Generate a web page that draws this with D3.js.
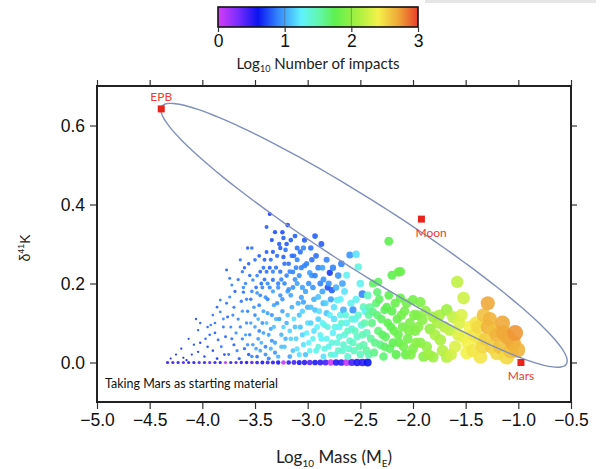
<!DOCTYPE html>
<html>
<head>
<meta charset="utf-8">
<script src="https://cdn.jsdelivr.net/npm/d3@7"></script>
<style>
  body { margin: 0; background: #fff; }
  svg { display: block; }
</style>
</head>
<body>
<div id="chart"></div>
<script>
// axis ticks
const xTicks = [-5, -4.5, -4, -3.5, -3, -2.5, -2, -1.5, -1, -0.5];
const yTicks = [0, 0.2, 0.4, 0.6];
const cbTicks = [0, 1, 2, 3];

// colour map for log10 number of impacts
const cmapStops = [0, 0.3, 0.6, 0.9, 1.25, 1.5, 1.75, 2.1, 2.4, 2.7, 3];
const cmapColors = ['#d63cf5', '#7a2cff', '#0a14f0', '#3385ff', '#5ff2ff', '#62f7b0',
                    '#5ef050', '#a8f040', '#f4f24a', '#f0a838', '#e8402a'];

// reference bodies
const refNames = ['EPB', 'Moon', 'Mars'];
const refMass = [-4.39, -1.92, -0.975];
const refDelta = [0.642, 0.363, 0.0];

// mixing ellipse (centre and two semi-axis vectors, data units)
const ellCentre = [-2.465, 0.322];
const ellAxisA = [1.921, -0.326];
const ellAxisB = [-0.174, -0.0727];

// simulations on the zero line: log mass and log impacts
const rowMass = [-4.33, -4.28, -4.23, -4.18, -4.13, -4.08, -4.03, -3.98, -3.93, -3.88,
  -3.83, -3.78, -3.73, -3.68, -3.63, -3.58, -3.53, -3.48, -3.43, -3.38, -3.33, -3.28,
  -3.23, -3.18, -3.13, -3.08, -3.03, -2.98, -2.93, -2.88, -2.83, -2.78, -2.73, -2.68,
  -2.63, -2.58, -2.53, -2.48, -2.43];
const rowImpacts = [0.5, 0.45, 0.5, 0.4, 0.5, 0.55, 0.45, 0.5, 0.4, 0.5,
  0.55, 0.1, 0.5, 0.45, 0.5, 0.55, 0.4, 0.5, 0.55, 0.45, 0.5, 0.55,
  0.05, 0.5, 0.45, 0.55, 0.5, 0.4, 0.55, 0.5, 0.45, 0.05, 0.55, 0.5,
  0.05, 0.45, 0.55, 0.5, 0.6];

// [log10 mass, d41K, log10 impacts]
const blueSims = [
  [-4.3,0.01,0.6],[-4.25,0.02,0.65],[-4.2,0.035,0.65],[-4.18,0.012,0.6],[-4.13,0.06,0.7],[-4.06,0.11,0.75],
  [-4.15,0.006,0.6],[-4.04,0.027,0.7],[-4.02,0.05,0.7],[-3.95,0.04,0.75],[-3.93,0.07,0.8],[-4.04,0.082,0.75],
  [-4.02,0.1,0.8],[-3.9,0.12,0.85],[-3.83,0.128,0.9],[-3.83,0.158,0.85],[-3.85,0.057,0.8],[-3.8,0.09,0.85],
  [-3.76,0.115,0.8],[-3.74,0.166,0.9],[-3.77,0.234,0.8],[-3.74,0.213,0.85],[-3.72,0.196,0.9],[-3.64,0.26,0.85],
  [-3.6,0.24,0.8],[-3.61,0.19,0.9],[-3.61,0.178,0.85],[-3.57,0.29,0.8],[-3.53,0.29,0.85],[-3.52,0.209,0.9],
  [-3.48,0.176,0.95],[-3.45,0.23,0.8],[-3.39,0.23,0.85],[-3.36,0.376,0.7],[-3.39,0.343,0.8],[-3.34,0.31,0.75],
  [-3.23,0.315,0.8],[-3.19,0.348,0.75],[-3.23,0.267,0.8],[-3.33,0.209,0.85],
  [-4.1,0.02,0.7],[-4.08,0.045,0.75],[-3.98,0.015,0.7],[-3.97,0.06,0.8],[-3.92,0.095,0.85],[-3.9,0.03,0.75],
  [-3.88,0.075,0.8],[-3.86,0.01,0.7],[-3.82,0.04,0.85],[-3.8,0.11,0.9],[-3.78,0.065,0.8],[-3.75,0.02,0.85],
  [-3.73,0.09,0.9],[-3.7,0.14,0.85],[-3.7,0.045,0.8],[-3.68,0.075,0.95],[-3.66,0.11,0.9],[-3.65,0.01,0.8],
  [-3.63,0.155,0.85],[-3.62,0.06,0.9],[-3.6,0.035,0.85],[-3.58,0.1,0.95],[-3.57,0.13,0.9],[-3.56,0.02,0.8],
  [-3.55,0.07,0.9],[-3.54,0.16,0.85],[-3.52,0.045,0.95],[-3.5,0.12,0.9],[-3.5,0.09,1.0],[-3.48,0.015,0.85],
  [-3.47,0.06,0.95],[-3.46,0.145,0.9],[-3.45,0.03,1.0],[-3.44,0.2,0.85],[-3.43,0.1,0.95],[-3.42,0.075,1.0],
  [-3.41,0.26,0.8],[-3.4,0.04,0.9],[-3.4,0.165,0.95],[-3.38,0.125,1.0],[-3.37,0.01,0.9],[-3.36,0.19,0.9],
  [-3.35,0.085,1.0],[-3.34,0.055,0.95],[-3.33,0.28,0.8],[-3.32,0.145,1.0],[-3.31,0.025,0.95],[-3.3,0.24,0.85],
  [-3.3,0.11,1.05],[-3.27,0.3,0.8],[-3.21,0.285,0.85],[-3.16,0.31,0.8],
  [-3.95,0.09,0.8],[-3.88,0.1,0.85],[-3.86,0.14,0.8],[-3.79,0.02,0.75],[-3.77,0.15,0.85],[-3.72,0.06,0.85],
  [-3.71,0.12,0.9],[-3.69,0.18,0.8],[-3.67,0.03,0.9],[-3.66,0.21,0.85],[-3.64,0.09,0.9],[-3.62,0.13,0.95],
  [-3.59,0.07,1.0],[-3.58,0.16,0.9],[-3.57,0.045,0.95],[-3.55,0.22,0.85],[-3.54,0.1,1.0],[-3.53,0.015,0.9],
  [-3.51,0.14,0.95],[-3.49,0.19,0.85],[-3.49,0.035,1.0],[-3.47,0.11,1.05],[-3.46,0.08,0.9],[-3.45,0.17,0.9],
  [-3.44,0.05,1.05],[-3.42,0.13,1.0],[-3.41,0.21,0.85],[-3.4,0.02,0.95],[-3.39,0.1,1.1],[-3.38,0.16,0.9],
  [-3.37,0.07,1.0],[-3.36,0.24,0.8],[-3.35,0.035,1.05],[-3.34,0.12,0.95],[-3.33,0.18,1.0],[-3.32,0.09,1.1],
  [-3.31,0.05,1.0],[-3.29,0.15,0.95],[-3.28,0.015,1.05],[-3.27,0.11,1.0],[-3.26,0.23,0.85],[-3.25,0.04,1.1],
  [-3.24,0.16,0.95],[-3.23,0.09,1.15],[-3.22,0.2,0.9],[-3.21,0.06,1.05],[-3.19,0.12,1.1],[-3.18,0.25,0.85],
  [-3.17,0.08,1.15],[-3.16,0.17,1.0],[-3.14,0.03,1.1],[-3.13,0.11,1.2],[-3.12,0.21,0.95],[-3.11,0.06,1.15],
  [-3.09,0.15,1.05],[-3.08,0.02,1.2],[-3.07,0.09,1.1],[-3.06,0.24,0.9],[-3.05,0.13,1.15],[-3.04,0.045,1.2],
  [-3.02,0.18,1.0],[-3.01,0.075,1.25],[-3.0,0.14,1.05],
  [-3.62,0.23,0.85],[-3.59,0.2,0.9],[-3.56,0.25,0.8],[-3.53,0.18,0.9],[-3.5,0.26,0.85],[-3.48,0.22,0.9],
  [-3.46,0.27,0.8],[-3.43,0.19,0.9],[-3.42,0.24,0.85],[-3.39,0.28,0.8],[-3.38,0.2,0.9],[-3.35,0.26,0.85],
  [-3.33,0.23,0.9],[-3.31,0.33,0.75],[-3.29,0.27,0.85],[-3.28,0.19,0.95],[-3.26,0.29,0.8],[-3.25,0.21,0.9],
  [-3.24,0.33,0.75],[-3.22,0.25,0.85],[-3.2,0.3,0.8],[-3.19,0.18,1.0],[-3.17,0.23,0.9],[-3.15,0.27,0.85],
  [-3.14,0.19,0.95],[-3.12,0.32,0.8],[-3.11,0.24,0.9],[-3.08,0.22,0.95],[-3.07,0.28,0.85],[-3.05,0.19,1.0],
  [-3.03,0.31,0.8],[-3.01,0.25,0.9],[-2.97,0.29,0.85],[-2.96,0.22,0.95],[-2.92,0.27,0.85],[-2.9,0.24,0.9],
  [-2.87,0.3,0.8],[-2.85,0.21,0.95],[-2.82,0.26,0.9],[-2.8,0.2,0.95],[-2.76,0.24,0.9],[-2.71,0.22,0.95],
  [-2.68,0.25,0.9],[-2.67,0.2,1.0]
];

const cyanSims = [
  [-3.1,0.29,0.85],[-3.04,0.29,0.9],[-3.1,0.26,0.9],[-2.93,0.32,0.8],[-2.86,0.24,1.0],[-2.79,0.227,0.7],
  [-3.14,0.229,0.9],[-2.98,0.227,1.0],[-2.81,0.19,0.75],[-2.77,0.183,0.8],[-2.95,0.19,0.95],[-2.9,0.166,1.1],
  [-3.04,0.153,1.0],[-2.85,0.15,1.05],[-2.93,0.133,1.1],
  [-3.28,0.2,0.9],[-3.26,0.17,0.95],[-3.25,0.07,1.05],[-3.24,0.13,1.0],[-3.22,0.04,1.1],[-3.2,0.22,0.9],
  [-3.2,0.1,1.05],[-3.18,0.185,0.95],[-3.17,0.015,1.0],[-3.16,0.06,1.15],[-3.15,0.14,1.05],[-3.13,0.27,0.85],
  [-3.12,0.09,1.1],[-3.1,0.2,1.0],[-3.1,0.035,1.2],[-3.08,0.12,1.1],[-3.06,0.165,1.0],[-3.05,0.07,1.15],
  [-3.03,0.245,0.9],[-3.02,0.02,1.1],[-3.0,0.1,1.2],[-2.99,0.05,1.25],[-2.97,0.14,1.1],[-2.96,0.26,0.85],
  [-2.94,0.08,1.2],[-2.92,0.03,1.3],[-2.9,0.11,1.15],[-2.88,0.2,0.9],[-2.87,0.06,1.25],[-2.85,0.015,1.2],
  [-2.84,0.095,1.3],[-2.82,0.125,1.1],[-2.8,0.04,1.3],[-2.78,0.16,1.0],[-2.76,0.075,1.25],[-2.75,0.11,1.2],
  [-2.6,0.272,0.95],[-2.54,0.274,1.2],[-2.52,0.242,1.35],[-2.63,0.221,1.3],[-2.48,0.173,0.9],[-2.72,0.158,1.3],
  [-2.57,0.133,0.95],[-2.66,0.133,1.05],
  [-2.74,0.02,1.3],[-2.72,0.05,1.35],[-2.7,0.09,1.25],[-2.69,0.12,1.3],[-2.67,0.03,1.4],[-2.65,0.07,1.35],
  [-2.63,0.1,1.3],[-2.62,0.015,1.4],[-2.6,0.055,1.4],[-2.58,0.085,1.35],[-2.56,0.03,1.45],[-2.55,0.11,1.3],
  [-2.53,0.065,1.4],[-2.5,0.02,1.45],[-2.49,0.095,1.35],[-2.47,0.045,1.5],[-2.45,0.13,1.3],[-2.44,0.075,1.45],
  [-2.42,0.02,1.5],
  [-2.99,0.2,0.95],[-2.98,0.03,1.3],[-2.97,0.1,1.15],[-2.95,0.06,1.3],[-2.94,0.16,1.05],[-2.93,0.22,0.9],
  [-2.91,0.09,1.25],[-2.9,0.04,1.35],[-2.89,0.13,1.2],[-2.88,0.07,1.3],[-2.86,0.18,1.0],[-2.86,0.1,1.3],
  [-2.84,0.035,1.35],[-2.83,0.15,1.15],[-2.82,0.06,1.3],[-2.81,0.09,1.35],[-2.79,0.12,1.25],[-2.78,0.02,1.4],
  [-2.77,0.05,1.35],[-2.75,0.14,1.2],[-2.74,0.09,1.35],[-2.73,0.19,1.05],[-2.71,0.03,1.4],[-2.7,0.065,1.35],
  [-2.69,0.16,1.25],[-2.68,0.1,1.4],[-2.66,0.045,1.4],[-2.65,0.18,1.2],[-2.64,0.12,1.35],[-2.62,0.08,1.45],
  [-2.61,0.035,1.4],[-2.59,0.15,1.3],[-2.58,0.11,1.4],[-2.57,0.05,1.45],[-2.55,0.08,1.45],[-2.54,0.16,1.3],
  [-2.52,0.12,1.4],[-2.51,0.04,1.5],[-2.5,0.2,1.3],[-2.48,0.07,1.5],[-2.47,0.14,1.45],[-2.46,0.1,1.5],
  [-2.44,0.03,1.55],[-2.43,0.17,1.45],[-2.42,0.12,1.55]
];

const greenSims = [
  [-2.23,0.307,1.75],[-2.14,0.229,1.8],[-2.2,0.221,1.75],[-2.38,0.2,1.7],[-2.33,0.204,1.7],[-2.34,0.178,1.65],
  [-2.12,0.163,1.8],[-2.38,0.128,1.6],[-2.27,0.133,1.7],[-2.12,0.23,1.8],
  [-2.4,0.06,1.55],[-2.39,0.1,1.6],[-2.37,0.025,1.6],[-2.35,0.15,1.65],[-2.33,0.08,1.65],[-2.31,0.045,1.6],
  [-2.3,0.11,1.7],[-2.28,0.015,1.65],[-2.26,0.065,1.7],[-2.24,0.1,1.75],[-2.22,0.035,1.7],[-2.2,0.13,1.75],
  [-2.18,0.08,1.8],[-2.16,0.02,1.75],[-2.15,0.11,1.8],[-2.13,0.05,1.8],[-2.1,0.09,1.85],[-2.08,0.13,1.85],
  [-2.07,0.02,1.8],[-2.05,0.06,1.85],[-2.03,0.1,1.9],[-2.0,0.158,1.85],[-2.0,0.035,1.9],[-1.98,0.08,1.9],
  [-1.96,0.12,1.9],[-1.93,0.153,1.9],[-1.93,0.05,1.95],[-1.91,0.108,1.95],[-1.9,0.015,1.95],
  [-2.41,0.14,1.55],[-2.36,0.05,1.6],[-2.34,0.12,1.65],[-2.32,0.16,1.7],[-2.29,0.07,1.7],[-2.27,0.04,1.7],
  [-2.25,0.14,1.75],[-2.23,0.17,1.75],[-2.21,0.09,1.75],[-2.19,0.05,1.75],[-2.17,0.15,1.8],[-2.14,0.07,1.8],
  [-2.11,0.12,1.85],[-2.09,0.04,1.85],[-2.06,0.15,1.85],[-2.04,0.08,1.9],[-2.02,0.02,1.9],[-1.99,0.12,1.9],
  [-1.97,0.05,1.95],[-1.95,0.09,1.95]
];

const yellowSims = [
  [-1.87,0.04,2.0],[-1.81,0.115,2.05],[-1.81,0.014,2.05],[-1.74,0.057,2.1],[-1.68,0.133,2.05],[-1.68,0.014,2.15],
  [-1.65,0.082,2.2],[-1.62,0.115,2.2],[-1.58,0.204,2.2],[-1.52,0.163,2.25],[-1.52,0.065,2.35],[-1.49,0.024,2.4],
  [-1.46,0.09,2.4],[-1.84,0.085,2.0],[-1.77,0.1,2.1],[-1.72,0.03,2.15],[-1.6,0.04,2.3],[-1.56,0.1,2.3],
  [-1.36,0.057,2.45],[-1.36,0.014,2.45],[-1.29,0.09,2.65],[-1.29,0.15,2.7],[-1.2,0.07,2.65],[-1.14,0.075,2.7],
  [-1.1,0.065,2.7],[-1.01,0.032,2.65],[-1.2,0.024,2.5],[-1.11,0.014,2.5],[-1.4,0.1,2.45],[-1.25,0.04,2.55],
  [-1.05,0.05,2.7],[-1.33,0.12,2.6],
  [-1.88,0.13,2.0],[-1.85,0.02,2.05],[-1.79,0.07,2.1],[-1.75,0.12,2.1],[-1.7,0.09,2.15],[-1.64,0.02,2.25],
  [-1.57,0.07,2.3],[-1.54,0.12,2.3],[-1.48,0.05,2.4],[-1.43,0.03,2.45],[-1.42,0.07,2.45],[-1.38,0.09,2.5],
  [-1.34,0.04,2.5],[-1.31,0.06,2.55],[-1.27,0.11,2.65],[-1.23,0.08,2.6],[-1.17,0.04,2.6],[-1.15,0.1,2.7],
  [-1.07,0.03,2.6],[-1.03,0.075,2.75]
];

const W = 601, H = 469;
const plot = { left: 97, right: 571, top: 86, bottom: 402 };

const svg = d3.select('#chart').append('svg')
  .attr('width', W).attr('height', H)
  .attr('font-family', '"Liberation Sans", Arial, sans-serif');

const x = d3.scaleLinear().domain([-5, -0.5]).range([plot.left, plot.right]);
const y = d3.scaleLinear().domain([-0.1, 0.7]).range([plot.bottom, plot.top]);
const color = d3.scaleLinear().domain(cmapStops).range(cmapColors).clamp(true);
// marker size grows with mass (measured from the smallest simulated body)
const minMass = -4.4;
const radius = d3.scalePow().exponent(1.6).domain([0, 3.4]).range([1.0, 8.0]).clamp(true);

// faint frame edge at top right of the original figure
svg.append('line').attr('x1', 425).attr('x2', 596).attr('y1', 1.5).attr('y2', 1.5)
  .attr('stroke', '#e6e6e6').attr('stroke-width', 3);

// clip for marks
svg.append('clipPath').attr('id', 'clip').append('rect')
  .attr('x', plot.left).attr('y', plot.top)
  .attr('width', plot.right - plot.left).attr('height', plot.bottom - plot.top);

const marks = svg.append('g').attr('clip-path', 'url(#clip)');

// scatter
const rowSims = rowMass.map((m, i) => [m, 0, rowImpacts[i]]);
const sims = [].concat(rowSims, blueSims, cyanSims, greenSims, yellowSims)
  .sort((a, b) => a[0] - b[0]);

marks.selectAll('circle.sim').data(sims).enter().append('circle')
  .attr('class', 'sim')
  .attr('cx', d => x(d[0]))
  .attr('cy', d => y(d[1]))
  .attr('r', d => Math.max(radius(d[0] - minMass), d[1] === 0 ? 1.6 : 0))
  .attr('fill', d => color(d[2]))
  .attr('fill-opacity', 0.9);

// ellipse
const ellPts = d3.range(0, 360, 3).map(a => {
  const t = a * Math.PI / 180;
  return [ellCentre[0] + Math.cos(t) * ellAxisA[0] + Math.sin(t) * ellAxisB[0],
          ellCentre[1] + Math.cos(t) * ellAxisA[1] + Math.sin(t) * ellAxisB[1]];
});
marks.append('path')
  .attr('d', d3.line().x(d => x(d[0])).y(d => y(d[1])).curve(d3.curveCardinalClosed)(ellPts))
  .attr('fill', 'none')
  .attr('stroke', '#7f8fbc')
  .attr('stroke-width', 1.4);

// reference bodies
const refOffsets = [[0, -8, 'middle'], [-6, 18, 'start'], [0, 17, 'middle']];
refNames.forEach((n, i) => {
  svg.append('rect')
    .attr('x', x(refMass[i]) - 3.5).attr('y', y(refDelta[i]) - 3.5)
    .attr('width', 7).attr('height', 7)
    .attr('fill', '#e8231c');
  svg.append('text')
    .attr('x', x(refMass[i]) + refOffsets[i][0])
    .attr('y', y(refDelta[i]) + refOffsets[i][1])
    .attr('text-anchor', refOffsets[i][2])
    .attr('font-family', 'Lato, "Open Sans", sans-serif')
    .attr('font-size', 12)
    .attr('fill', '#ee3a32')
    .text(n);
});

// annotation
svg.append('text')
  .attr('x', plot.left + 8).attr('y', plot.bottom - 14)
  .attr('font-family', 'Lato, "Open Sans", sans-serif')
  .attr('font-size', 12.5)
  .attr('fill', '#111')
  .text('Taking Mars as starting material');

// axes
const tickStyle = g => {
  g.select('.domain').remove();
  g.selectAll('.tick line').attr('stroke', '#333').attr('stroke-width', 1.2);
  g.selectAll('.tick text').attr('font-size', 17.5).attr('fill', '#111')
    .attr('font-family', '"Liberation Sans", Arial, sans-serif');
};
svg.append('g').attr('transform', `translate(0,${plot.bottom})`)
  .call(d3.axisBottom(x).tickValues(xTicks).tickFormat(d3.format('.1f')).tickSize(7).tickPadding(5))
  .call(tickStyle);
svg.append('g').attr('transform', `translate(0,${plot.top})`)
  .call(d3.axisTop(x).tickValues(xTicks).tickFormat('').tickSize(6))
  .call(tickStyle);
svg.append('g').attr('transform', `translate(${plot.left},0)`)
  .call(d3.axisLeft(y).tickValues(yTicks).tickFormat(d3.format('.1f')).tickSize(7).tickPadding(5))
  .call(tickStyle);
svg.append('g').attr('transform', `translate(${plot.right},0)`)
  .call(d3.axisRight(y).tickValues(yTicks).tickFormat('').tickSize(6))
  .call(tickStyle);

svg.append('rect')
  .attr('x', plot.left).attr('y', plot.top)
  .attr('width', plot.right - plot.left).attr('height', plot.bottom - plot.top)
  .attr('fill', 'none').attr('stroke', '#222').attr('stroke-width', 2);

// axis titles
const xTitle = svg.append('text')
  .attr('x', (plot.left + plot.right) / 2).attr('y', 463)
  .attr('text-anchor', 'middle')
  .attr('font-family', 'Lato, "Open Sans", sans-serif')
  .attr('font-size', 17).attr('fill', '#222');
xTitle.append('tspan').text('Log');
xTitle.append('tspan').attr('font-size', 10).attr('dy', 4).text('10');
xTitle.append('tspan').attr('dy', -4).text(' Mass (M');
xTitle.append('tspan').attr('font-size', 10).attr('dy', 4).text('E');
xTitle.append('tspan').attr('dy', -4).text(')');

const yTitle = svg.append('text')
  .attr('transform', 'translate(30,248) rotate(-90)')
  .attr('text-anchor', 'middle')
  .attr('font-size', 14).attr('fill', '#222');
yTitle.append('tspan').text('δ');
yTitle.append('tspan').attr('font-size', 9).attr('dy', -6).text('41');
yTitle.append('tspan').attr('dy', 6).text('K');

// colour bar
const cb = { left: 218, right: 418, top: 7, bottom: 27 };
const cx = d3.scaleLinear().domain([0, 3]).range([cb.left, cb.right]);
const grad = svg.append('defs').append('linearGradient').attr('id', 'cbgrad');
cmapStops.forEach((s, i) => {
  grad.append('stop').attr('offset', (s / 3 * 100) + '%').attr('stop-color', cmapColors[i]);
});
svg.append('rect')
  .attr('x', cb.left).attr('y', cb.top)
  .attr('width', cb.right - cb.left).attr('height', cb.bottom - cb.top)
  .attr('fill', 'url(#cbgrad)');
svg.selectAll('line.cbin').data(cbTicks.slice(1, -1)).enter().append('line')
  .attr('x1', d => cx(d)).attr('x2', d => cx(d))
  .attr('y1', cb.top).attr('y2', cb.bottom)
  .attr('stroke', '#555').attr('stroke-opacity', 0.5);
svg.append('rect')
  .attr('x', cb.left).attr('y', cb.top)
  .attr('width', cb.right - cb.left).attr('height', cb.bottom - cb.top)
  .attr('fill', 'none').attr('stroke', '#111').attr('stroke-width', 1.6);
svg.append('g').attr('transform', `translate(0,${cb.bottom})`)
  .call(d3.axisBottom(cx).tickValues(cbTicks).tickFormat(d3.format('d')).tickSize(5).tickPadding(3))
  .call(tickStyle);

const cbTitle = svg.append('text')
  .attr('x', (cb.left + cb.right) / 2).attr('y', 69)
  .attr('text-anchor', 'middle')
  .attr('font-family', 'Lato, "Open Sans", sans-serif')
  .attr('font-size', 15).attr('fill', '#222');
cbTitle.append('tspan').text('Log');
cbTitle.append('tspan').attr('font-size', 9).attr('dy', 3).text('10');
cbTitle.append('tspan').attr('dy', -3).text(' Number of impacts');
</script>
</body>
</html>
